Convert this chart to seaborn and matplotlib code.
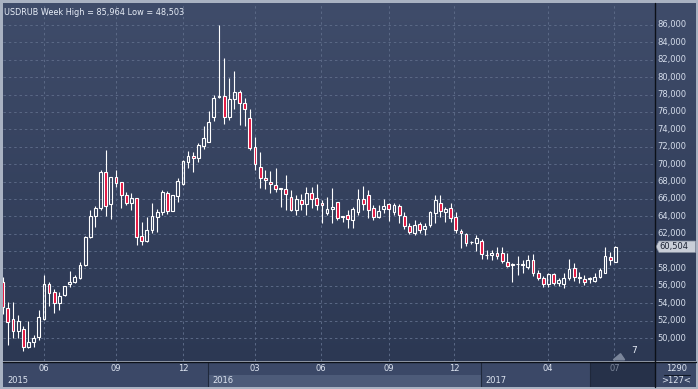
import numpy as np
import pandas as pd
import matplotlib
matplotlib.use('Agg')
import matplotlib.pyplot as plt
import seaborn as sns
from matplotlib.patches import Rectangle, Polygon

# weekly USDRUB candles
opens = [56.50, 53.41, 52.14, 50.84, 50.99, 48.92, 49.50, 50.07, 52.18, 56.17,
         55.25, 53.98, 54.90, 56.17, 56.40, 56.86, 58.35, 61.65, 64.03, 64.91,
         69.05, 65.37, 68.48, 67.98, 66.44, 65.49, 66.06, 61.73, 61.19, 62.42,
         63.95, 64.53, 66.64, 64.64, 66.37, 67.67, 70.28, 70.93, 70.66, 72.12,
         72.58, 75.46, 77.75, 77.87, 75.46, 77.45, 78.33, 76.99, 75.26, 72.00,
         69.63, 68.36, 67.94, 67.56, 67.21, 67.10, 66.17, 64.72, 65.87, 65.41,
         66.64, 66.06, 65.49, 64.34, 64.80, 65.68, 63.88, 64.14, 63.57, 64.53,
         65.94, 66.44, 64.91, 63.88, 64.80, 65.41, 64.53, 65.18, 64.03, 62.88,
         62.03, 63.11, 62.50, 63.00, 64.34, 65.56, 64.53, 64.91, 63.88, 62.34,
         61.96, 61.00, 60.88, 61.19, 59.55, 59.55, 59.74, 59.81, 58.78, 58.47,
         58.47, 58.40, 58.13, 58.97, 57.51, 56.86, 56.21, 57.36, 56.29, 56.21,
         56.86, 58.01, 57.05, 56.75, 56.75, 56.60, 56.98, 57.51, 59.35, 58.78]
highs = [57.00, 54.10, 54.10, 52.64, 51.38, 51.95, 50.34, 53.22, 57.24, 56.48,
         55.59, 55.33, 56.00, 57.70, 57.24, 58.78, 61.70, 64.72, 65.18, 69.32,
         71.62, 68.50, 69.32, 68.00, 66.75, 66.64, 66.10, 63.38, 63.95, 65.49,
         64.80, 67.02, 66.90, 66.50, 68.36, 70.47, 71.51, 71.35, 72.39, 74.38,
         76.11, 77.95, 85.964, 82.17, 79.87, 80.71, 78.50, 77.57, 76.30, 73.15,
         71.43, 69.32, 69.24, 69.51, 67.25, 68.74, 67.02, 66.44, 66.56, 67.33,
         67.33, 67.67, 65.87, 66.25, 67.21, 65.70, 63.95, 64.72, 65.10, 67.10,
         67.48, 67.02, 65.30, 65.29, 65.95, 65.49, 65.56, 65.41, 64.53, 63.19,
         63.57, 63.38, 63.26, 64.64, 66.44, 66.44, 65.10, 65.49, 64.53, 62.50,
         62.11, 61.15, 61.84, 61.35, 60.10, 60.12, 60.50, 60.50, 59.74, 58.60,
         59.43, 58.97, 59.55, 59.66, 57.82, 57.13, 57.44, 57.44, 56.86, 57.51,
         59.05, 58.59, 57.63, 57.24, 56.98, 57.44, 58.01, 60.50, 59.93, 60.58]
lows = [52.80, 49.19, 49.96, 49.96, 48.503, 48.81, 48.92, 49.77, 52.07, 53.72,
        52.91, 53.22, 54.80, 55.90, 56.28, 56.74, 58.30, 61.46, 62.72, 64.72,
        64.03, 63.64, 67.40, 64.91, 65.29, 64.72, 60.70, 60.70, 61.08, 62.03,
        62.23, 64.15, 64.26, 64.60, 65.68, 67.60, 69.59, 69.13, 70.28, 71.74,
        72.58, 74.96, 77.65, 74.57, 75.07, 76.34, 74.50, 74.42, 71.62, 69.32,
        67.21, 67.10, 66.71, 66.83, 65.10, 64.72, 64.64, 64.14, 64.72, 64.14,
        64.91, 64.72, 63.26, 64.14, 63.26, 63.57, 63.40, 62.60, 62.60, 64.14,
        64.72, 63.76, 63.57, 63.80, 64.34, 63.49, 64.14, 63.26, 62.50, 61.92,
        61.84, 62.03, 61.84, 62.80, 63.19, 63.95, 63.38, 63.38, 62.03, 60.39,
        60.58, 60.80, 60.04, 59.04, 59.04, 58.97, 59.04, 58.59, 58.13, 56.48,
        57.24, 57.51, 57.90, 57.13, 56.67, 55.83, 55.83, 56.10, 55.98, 55.71,
        56.67, 56.59, 56.29, 56.10, 56.29, 56.48, 56.86, 57.44, 58.40, 58.78]
closes = [53.60, 51.87, 50.84, 51.95, 48.92, 49.50, 49.96, 52.37, 56.17, 55.13,
          53.98, 54.83, 55.98, 56.40, 57.05, 58.39, 61.65, 64.03, 64.91, 69.05,
          65.18, 68.48, 67.86, 66.44, 65.49, 66.06, 61.65, 61.19, 62.42, 64.03,
          64.53, 66.75, 64.64, 66.45, 68.06, 70.36, 70.93, 70.66, 72.20, 72.96,
          74.88, 77.57, 77.87, 75.38, 77.45, 78.33, 76.99, 76.34, 71.81, 69.97,
          68.36, 68.13, 67.71, 67.10, 67.19, 66.52, 64.72, 65.94, 65.41, 66.71,
          65.94, 65.26, 65.26, 64.80, 65.10, 63.76, 63.90, 63.65, 64.80, 65.94,
          65.41, 64.72, 63.95, 64.60, 65.18, 64.80, 65.29, 64.14, 62.88, 62.23,
          63.00, 62.42, 62.88, 64.53, 65.87, 64.64, 64.84, 63.76, 62.42, 62.03,
          60.96, 61.02, 61.46, 59.66, 59.50, 59.74, 59.43, 58.89, 58.28, 58.45,
          58.50, 58.45, 58.97, 57.44, 56.86, 56.17, 57.36, 56.29, 56.67, 56.86,
          57.90, 57.05, 56.86, 56.48, 56.80, 56.98, 57.82, 59.43, 58.97, 60.504]

# month ticks (in candle index units) and year blocks
month_pos = [7.96, 21.98, 35.03, 48.95, 61.83, 74.97, 87.65, 105.83, 118.8]
month_labels = ['06', '09', '12', '03', '06', '09', '12', '04', '07']
year_start = [0.05, 39.96, 92.89]
year_labels = ['2015', '2016', '2017']
current_block = 114.06
price_ticks = np.arange(50, 87, 2)

W, H = 698, 389
sns.set_theme(style='dark')
plt.rcParams['font.family'] = ['DejaVu Sans']


def frac(x0, y0, x1, y1):
    return [x0 / W, 1 - y1 / H, (x1 - x0) / W, (y1 - y0) / H]


fig = plt.figure(figsize=(W / 100, H / 100), dpi=100)
fig.patch.set_facecolor('#a9b2c2')

XLIM = (0.05, 126.6)
YLIM = (47.36, 88.53)

# gradient background for plot + price scale
bg = fig.add_axes(frac(3, 3, 696, 361))
grad = np.linspace(0, 1, 256).reshape(-1, 1)
top = np.array([0x3f, 0x4c, 0x6a]) / 255
bot = np.array([0x2c, 0x38, 0x53]) / 255
img = top[None, None, :] * (1 - grad[:, :, None]) + bot[None, None, :] * grad[:, :, None]
bg.imshow(img, aspect='auto', extent=[0, 1, 0, 1])
bg.set_axis_off()

ax = fig.add_axes(frac(3, 3, 654.5, 361))
ax.set_facecolor('none')
ax.set_xlim(*XLIM)
ax.set_ylim(*YLIM)

grid_kw = dict(color='#5b6986', linewidth=0.7, linestyle=(0, (2.5, 3)), zorder=1)
for v in price_ticks:
    ax.axhline(v, **grid_kw)
for m in month_pos:
    ax.axvline(m, **grid_kw)

x = np.arange(len(opens))
o = np.array(opens)
c = np.array(closes)
hi = np.array(highs)
lo = np.array(lows)
body_lo = np.minimum(o, c)
body_hi = np.maximum(o, c)
body_h = np.maximum(body_hi - body_lo, 0.1)
up = c >= o

ax.vlines(x, lo, body_lo, color='white', linewidth=0.8, zorder=2)
ax.vlines(x, body_lo + body_h, hi, color='white', linewidth=0.8, zorder=2)
ax.bar(x[up], body_h[up], bottom=body_lo[up], width=0.55, color='none',
       edgecolor='white', linewidth=0.8, zorder=3)
ax.bar(x[~up], body_h[~up], bottom=body_lo[~up], width=0.55, color='#e3103c',
       edgecolor='white', linewidth=0.8, zorder=3)

ax.set_xticks([])
ax.set_yticks([])
for s in ax.spines.values():
    s.set_visible(False)

ax.text(0.002, 0.985, 'USDRUB Week High = 85,964 Low = 48,503', transform=ax.transAxes,
        ha='left', va='top', fontsize=5.9, color='#e8eef8')

# little marker near the last candle
ax.text(122.6, 48.1, '7', ha='center', va='bottom', fontsize=6.5, color='#e8eef8')
ax.add_patch(Polygon([[118.6, 47.5], [120.8, 47.5], [120.0, 48.2]], closed=True,
                     color='#7b869b', zorder=2))

# price scale on the right
last = closes[-1]
axr = fig.add_axes(frac(655, 3, 696, 361))
axr.set_facecolor('none')
axr.set_xlim(655, 696)
axr.set_ylim(*YLIM)
axr.set_xticks([])
axr.set_yticks([])
for s in axr.spines.values():
    s.set_visible(False)
for v in price_ticks:
    if abs(v - last) < 1.0:
        continue  # hidden behind the last-price tag
    axr.text(657.5, v, f'{v:.3f}'.replace('.', ','), ha='left', va='center',
             fontsize=6, color='#d6deec')
hh = 0.65
axr.add_patch(Polygon([[656, last], [659, last + hh], [695.5, last + hh],
                       [695.5, last - hh], [659, last - hh]], closed=True,
                      facecolor='#c9ced8', edgecolor='#8c94a4', linewidth=0.5, zorder=4))
axr.text(659.5, last, f'{last:.3f}'.replace('.', ','), ha='left', va='center',
         fontsize=6, color='#1b2233', zorder=5)

# time scale at the bottom
axb = fig.add_axes(frac(3, 362, 654.5, 387))
axb.set_xlim(*XLIM)
axb.set_ylim(0, 1)
axb.set_facecolor('#3b4867')
axb.set_xticks([])
axb.set_yticks([])
for s in axb.spines.values():
    s.set_visible(False)
axb.add_patch(Rectangle((year_start[1], 0), year_start[2] - year_start[1], 0.5,
                        facecolor='#4d5b79', edgecolor='none'))
axb.add_patch(Rectangle((current_block, 0), XLIM[1] - current_block, 1,
                        facecolor='#263149', edgecolor='none'))
for b in year_start[1:] + [current_block]:
    axb.axvline(b, color='#1f283b', linewidth=0.8)
for m, lab in zip(month_pos, month_labels):
    col = '#7d889c' if m > current_block else '#dde4f0'
    axb.text(m, 0.74, lab, ha='center', va='center', fontsize=6, color=col)
for ys, lab in zip(year_start, year_labels):
    axb.text(ys + 0.8, 0.26, lab, ha='left', va='center', fontsize=6, color='#dde4f0')

# corner box
axc = fig.add_axes(frac(655.5, 362, 696, 387))
axc.set_facecolor('#3b4867')
axc.set_xlim(0, 1)
axc.set_ylim(0, 1)
axc.set_xticks([])
axc.set_yticks([])
for s in axc.spines.values():
    s.set_visible(False)
axc.text(0.52, 0.74, '1290', ha='center', va='center', fontsize=6, color='#dde4f0')
axc.plot([0.2, 0.85], [0.5, 0.5], color='#111826', linewidth=0.8)
axc.text(0.52, 0.26, '>127<', ha='center', va='center', fontsize=6, color='#dde4f0')

# dark separators
fig.add_artist(plt.Line2D([654.8 / W, 654.8 / W], [1 - 387 / H, 1 - 3 / H],
                          color='#0c1018', linewidth=1.0))
fig.add_artist(plt.Line2D([3 / W, 696 / W], [1 - 361.5 / H, 1 - 361.5 / H],
                          color='#0c1018', linewidth=1.0))

fig.savefig('out.png', dpi=100, facecolor=fig.get_facecolor())
